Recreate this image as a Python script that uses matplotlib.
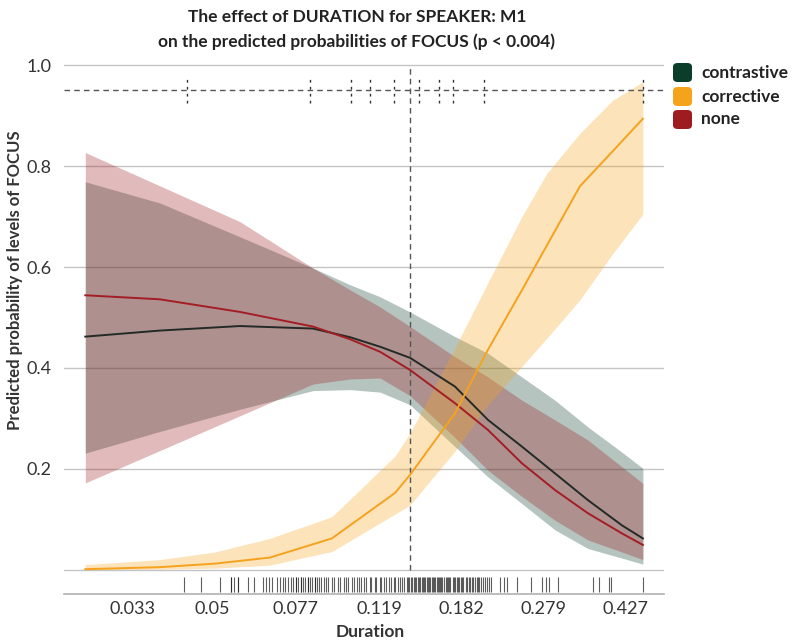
import numpy as np
import matplotlib
matplotlib.use("Agg")
import matplotlib.pyplot as plt
from matplotlib.patches import FancyBboxPatch

plt.rcParams['font.family'] = ['Lato', 'DejaVu Sans']

# durations (axe log) ou les courbes sont lues
duree = [0.0258, 0.0380, 0.0576, 0.0842, 0.1020, 0.1193, 0.1394,
         0.1761, 0.2090, 0.2493, 0.2960, 0.3512, 0.4191, 0.4674]

contrastive    = [0.462, 0.474, 0.483, 0.478, 0.461, 0.442, 0.420, 0.363, 0.297, 0.244, 0.191, 0.138, 0.088, 0.062]
contrastive_lo = [0.231, 0.274, 0.318, 0.355, 0.357, 0.352, 0.327, 0.244, 0.184, 0.131, 0.079, 0.042, 0.023, 0.011]
contrastive_hi = [0.769, 0.727, 0.660, 0.598, 0.565, 0.541, 0.511, 0.462, 0.429, 0.382, 0.336, 0.283, 0.233, 0.201]

none    = [0.544, 0.536, 0.511, 0.482, 0.457, 0.432, 0.396, 0.330, 0.277, 0.211, 0.158, 0.112, 0.072, 0.049]
none_lo = [0.172, 0.236, 0.305, 0.368, 0.378, 0.380, 0.345, 0.262, 0.197, 0.145, 0.098, 0.059, 0.035, 0.020]
none_hi = [0.827, 0.761, 0.690, 0.598, 0.555, 0.521, 0.482, 0.422, 0.382, 0.336, 0.297, 0.257, 0.204, 0.171]

# la courbe corrective n'a que quelques points
duree_corr = [0.0258, 0.0380, 0.0506, 0.0673, 0.0929, 0.1289, 0.1394,
              0.1761, 0.2090, 0.2493, 0.2839, 0.3370, 0.4000, 0.4674]
corrective    = [0.001, 0.005, 0.012, 0.024, 0.062, 0.152, 0.188, 0.310, 0.436, 0.554, 0.643, 0.760, 0.830, 0.894]
corrective_lo = [0.000, 0.001, 0.003, 0.009, 0.036, 0.110, 0.128, 0.235, 0.327, 0.403, 0.459, 0.535, 0.627, 0.705]
corrective_hi = [0.010, 0.020, 0.035, 0.062, 0.105, 0.225, 0.270, 0.440, 0.569, 0.700, 0.786, 0.865, 0.931, 0.967]

noeuds = [0.0438, 0.0829, 0.1025, 0.1132, 0.1282, 0.1463, 0.1620, 0.1745, 0.2050, 0.4667]
mediane = 0.1394

rug = [0.043, 0.047, 0.052, 0.055, 0.055, 0.056, 0.057, 0.057, 0.060, 0.062, 0.065,
       0.066, 0.067, 0.068, 0.070, 0.071, 0.072, 0.073, 0.074, 0.075,
       0.076, 0.077, 0.077, 0.078, 0.079, 0.079, 0.080, 0.081, 0.082, 0.082, 0.083,
       0.084, 0.085, 0.085, 0.086, 0.087, 0.088, 0.089, 0.090, 0.091,
       0.093, 0.094, 0.096, 0.097, 0.099, 0.100, 0.101, 0.103, 0.104, 0.106, 0.107,
       0.108, 0.110, 0.111, 0.113, 0.114, 0.116, 0.117, 0.119, 0.120, 0.122, 0.123,
       0.125, 0.126, 0.128, 0.129, 0.131, 0.132, 0.134, 0.135,
       0.137, 0.138, 0.139, 0.140, 0.141, 0.142, 0.143, 0.144, 0.145, 0.146, 0.147,
       0.148, 0.149, 0.150, 0.151, 0.152, 0.153, 0.154, 0.155, 0.156, 0.157, 0.158,
       0.159, 0.160, 0.161, 0.162, 0.163, 0.164, 0.165, 0.166, 0.168, 0.169, 0.170,
       0.171, 0.172, 0.174, 0.175, 0.176, 0.178, 0.179, 0.180, 0.182, 0.183, 0.184,
       0.186, 0.187, 0.189, 0.190, 0.192, 0.193, 0.195, 0.197, 0.198, 0.200, 0.202,
       0.204, 0.206, 0.208, 0.210, 0.212,
       0.222, 0.227, 0.231, 0.243, 0.261, 0.277, 0.282, 0.287, 0.300,
       0.361, 0.373, 0.392, 0.396, 0.467]

x_ticks = [0.033, 0.05, 0.077, 0.119, 0.182, 0.279, 0.427]
x_labels = ["0.033", "0.05", "0.077", "0.119", "0.182", "0.279", "0.427"]
y_ticks = [0.0, 0.2, 0.4, 0.6, 0.8, 1.0]
y_labels = ["", "0.2", "0.4", "0.6", "0.8", "1.0"]

niveaux = ["contrastive", "corrective", "none"]
couleurs = {"contrastive": "#0b3d2b", "corrective": "#f6a31c", "none": "#9e1b20"}
lignes = {"contrastive": "#232a26", "corrective": "#f5a21e", "none": "#a41d24"}

W, H = 794, 641
fig = plt.figure(figsize=(W / 100, H / 100), dpi=100)
ax = fig.add_axes([64 / W, 1 - 594.4 / H, 600 / W, (594.4 - 60.2) / H])
ax.set_xscale('log')
ax.set_xlim(0.0231, 0.5216)
ax.set_ylim(-0.049, 1.01)

# bandes
ax.fill_between(duree, contrastive_lo, contrastive_hi, color=couleurs["contrastive"], alpha=0.3, lw=0, zorder=2)
ax.fill_between(duree, none_lo, none_hi, color=couleurs["none"], alpha=0.3, lw=0, zorder=2)
ax.fill_between(duree_corr, corrective_lo, corrective_hi, color=couleurs["corrective"], alpha=0.3, lw=0, zorder=2)

ax.plot(duree, contrastive, color=lignes["contrastive"], lw=1.4, zorder=4)
ax.plot(duree, none, color=lignes["none"], lw=1.4, zorder=4)
ax.plot(duree_corr, corrective, color=lignes["corrective"], lw=1.4, zorder=4)

# repères
ax.axhline(0.95, color='#555555', lw=1, ls=(0, (4, 3)), zorder=3)
ax.vlines(noeuds, 0.925, 0.975, color='#333333', lw=1, linestyles=(0, (2, 3)), zorder=3)
ax.vlines([mediane], 0, 1.0, color='#555555', lw=1, linestyles=(0, (4, 3)), zorder=3)
ax.vlines(rug, -0.045, -0.015, color='#1a1a1a', lw=0.8, alpha=0.7, zorder=3)

ax.set_yticks(y_ticks)
ax.set_yticklabels(y_labels)
ax.set_xticks(x_ticks)
ax.set_xticklabels(x_labels)
ax.minorticks_off()
ax.yaxis.grid(True, color='#c4c4c4', lw=1)
ax.set_axisbelow(True)
ax.tick_params(length=0, labelsize=13, colors='#333333')
ax.tick_params(axis='y', pad=9)
ax.tick_params(axis='x', pad=5)
for cote in ['top', 'right', 'left']:
    ax.spines[cote].set_visible(False)
ax.spines['bottom'].set_color('#b0b0b0')
ax.spines['bottom'].set_linewidth(1.2)

fig.text(357 / W, 1 - 17 / H, "The effect of DURATION for SPEAKER: M1",
         ha='center', va='center', fontsize=12.5, fontweight='bold', color='#222222')
fig.text(357 / W, 1 - 42 / H, "on the predicted probabilities of FOCUS (p < 0.004)",
         ha='center', va='center', fontsize=12.5, fontweight='bold', color='#222222')
fig.text(370 / W, 1 - 632 / H, "Duration", ha='center', va='center',
         fontsize=12.5, fontweight='bold', color='#333333')
fig.text(15 / W, 1 - 280 / H, "Predicted probability of levels of FOCUS", ha='center', va='center',
         rotation=90, fontsize=12, fontweight='bold', color='#333333')

# légende
for i, niv in enumerate(niveaux):
    yc = [72.5, 96.5, 119.5][i]
    boite = FancyBboxPatch(((673) / W, 1 - (yc + 9.5) / H), 19 / W, 19 / H,
                           boxstyle="round,pad=0,rounding_size=0.006",
                           transform=fig.transFigure, facecolor=couleurs[niv], edgecolor='none')
    fig.add_artist(boite)
    fig.text(701 / W, 1 - yc / H, niv, ha='left', va='center',
             fontsize=12.5, fontweight='bold', color='#222222')

fig.savefig("out.png", dpi=100)
